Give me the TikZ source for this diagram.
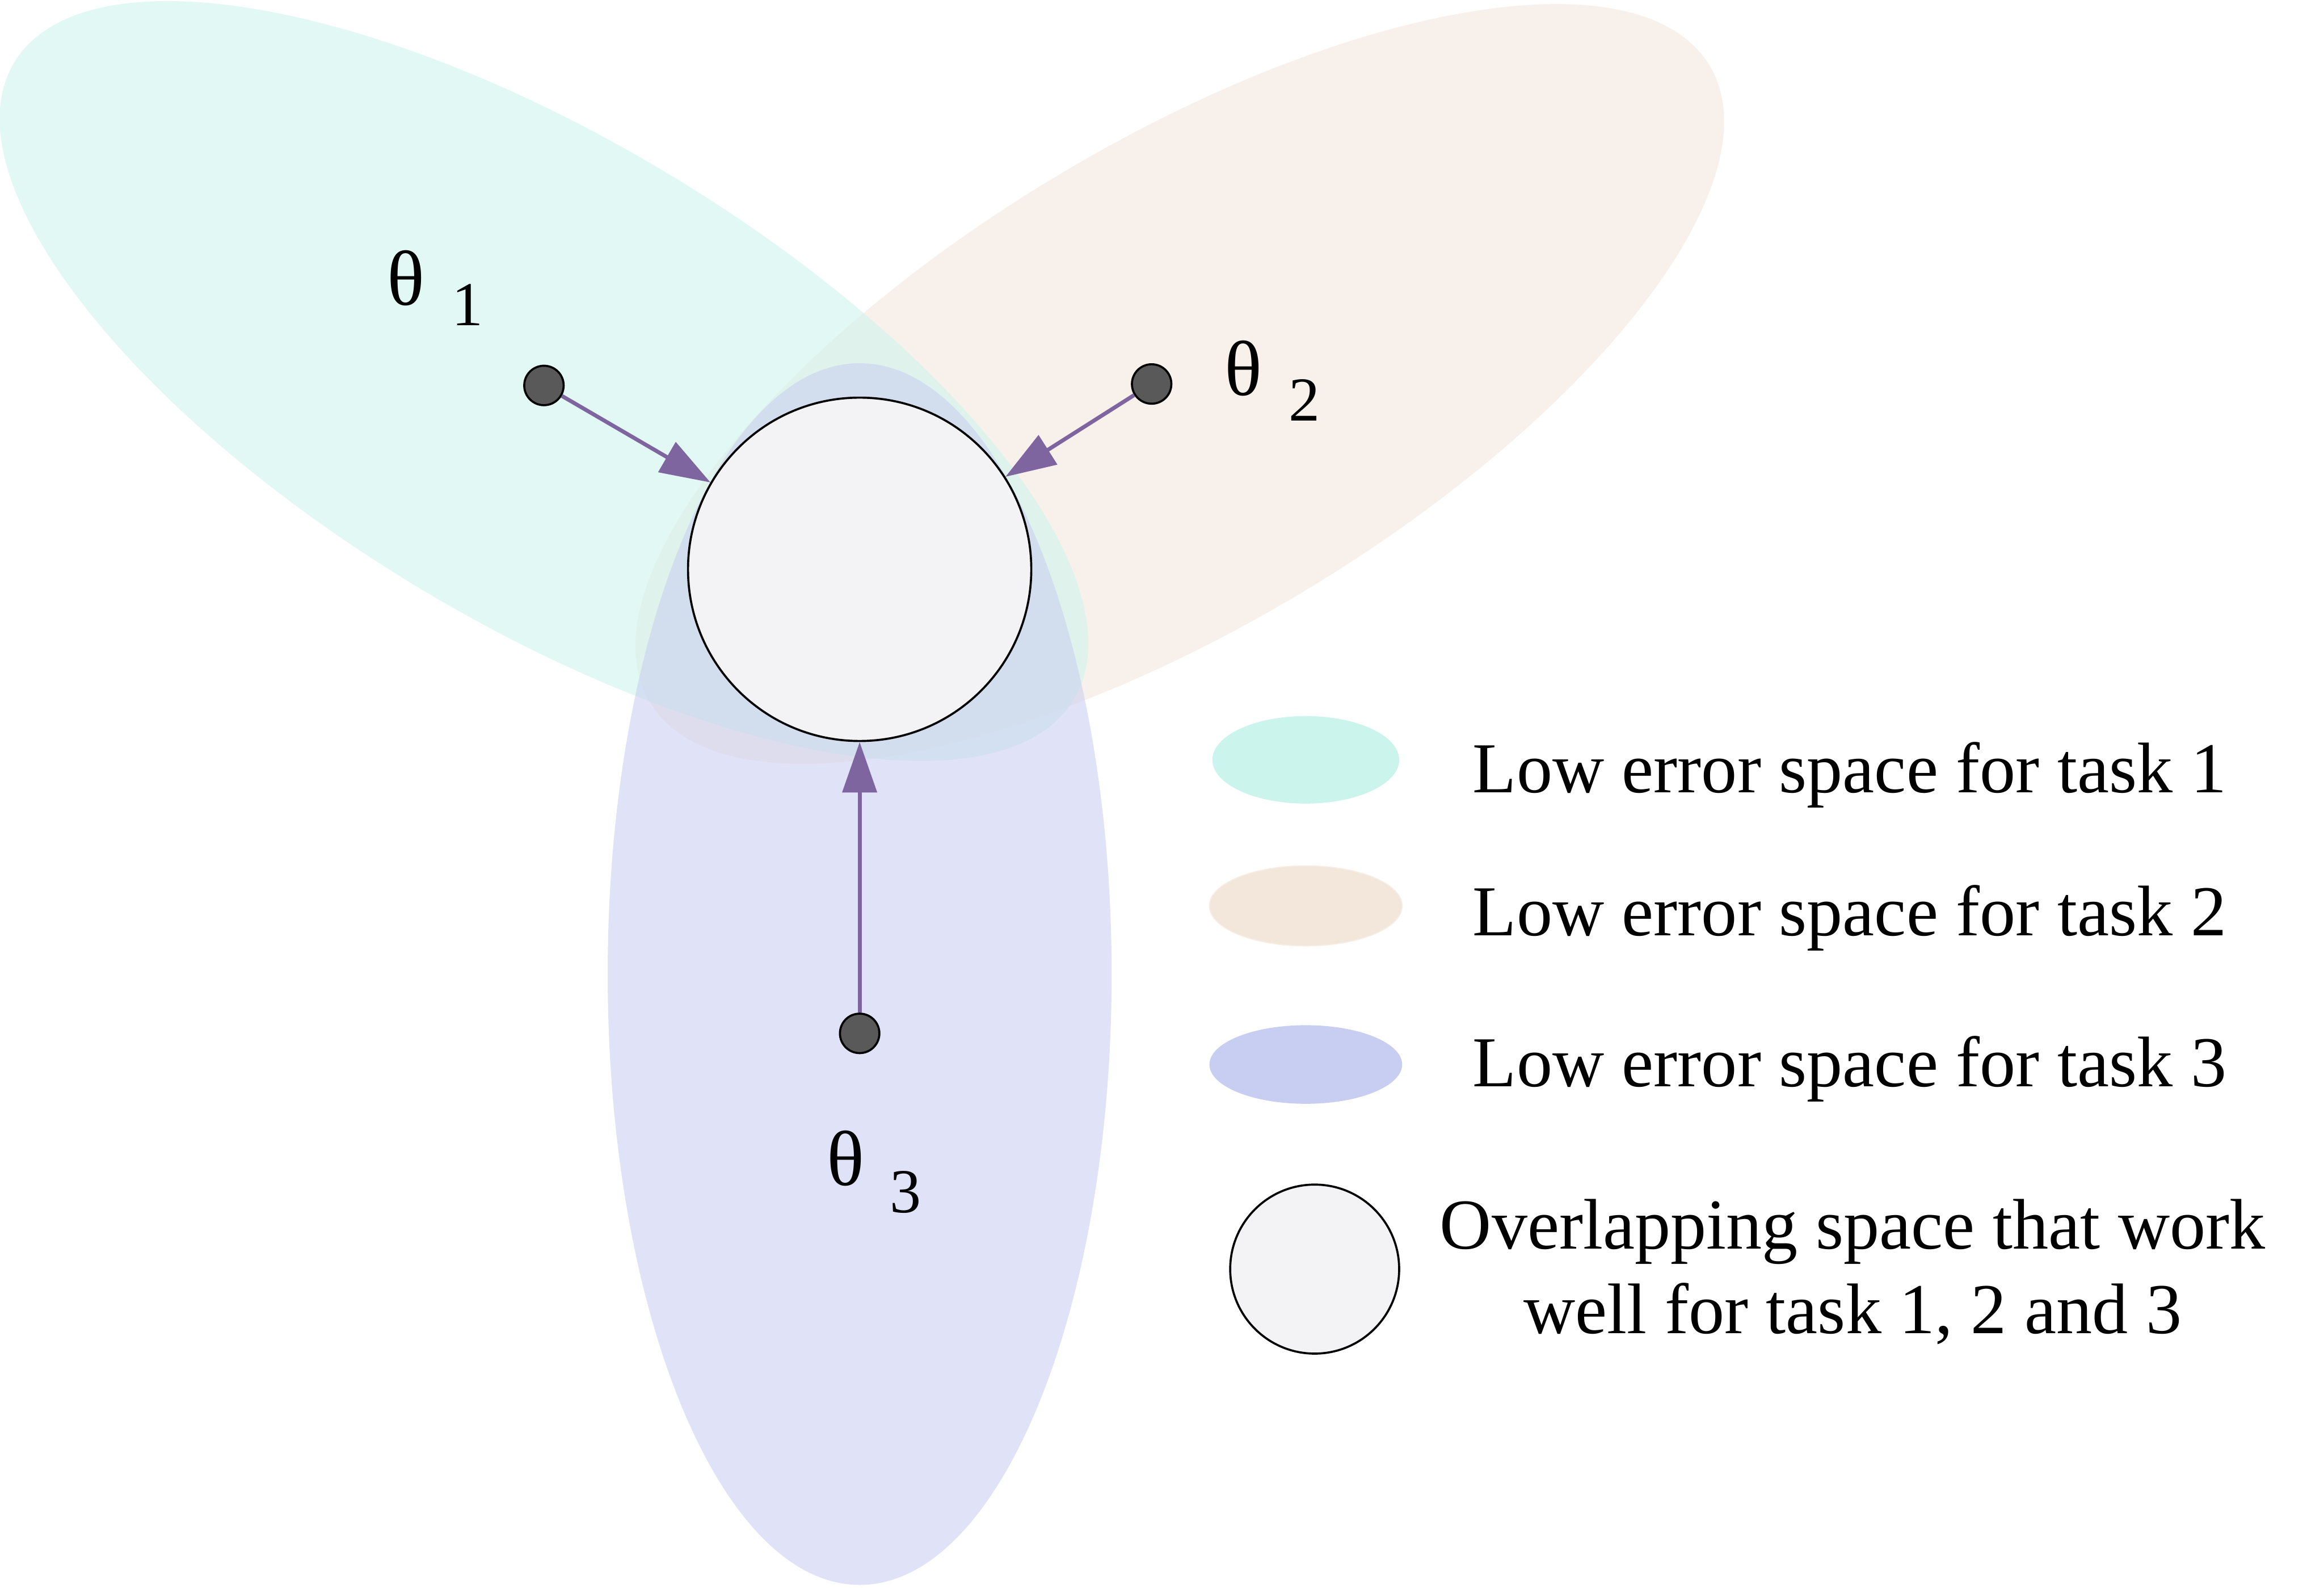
\documentclass[tikz,border=0pt]{standalone}
\usepackage{fontspec}
\setmainfont{Liberation Serif}
\usetikzlibrary{arrows.meta,positioning,shapes.geometric}
\definecolor{taskA}{RGB}{203,244,236}
\definecolor{taskB}{RGB}{243,231,220}
\definecolor{taskC}{RGB}{200,205,242}
\definecolor{ovfill}{RGB}{243,243,245}
\definecolor{dotfill}{RGB}{89,89,89}
\definecolor{arrc}{RGB}{127,101,160}

\begin{document}
\begin{tikzpicture}[>={Triangle[length=3.4mm,width=2.3mm]},
	   region/.style={fill opacity=0.55},
	   dot/.style={circle, draw=black, line width=0.4pt, fill=dotfill, minimum size=2.66mm, inner sep=0pt},
	   arr/.style={->, draw=arrc, line width=0.75pt},
	   th/.style={font=\fontsize{15}{18}\selectfont, inner sep=0pt},
	   sub/.style={font=\fontsize{12}{14}\selectfont, inner sep=0pt},
	   key/.style={ellipse, inner sep=0pt},
	   lbl/.style={font=\fontsize{13.75}{16.3}\selectfont, align=center, anchor=base, inner sep=0pt}]
	  \fill[white] (0,0) rectangle (15.68,-10.71);
	  \useasboundingbox (0,0) rectangle (15.68,-10.71);
	  \fill[taskB, region, rotate around={31:(7.96,-2.59)}] (7.96,-2.59) ellipse [x radius=4.17, y radius=1.63];
	  \fill[taskA, region, rotate around={-31:(3.67,-2.57)}] (3.67,-2.57) ellipse [x radius=4.17, y radius=1.63];
	  \fill[taskC, region] (5.80,-6.57) ellipse [x radius=1.70, y radius=4.12];
	  \node[circle, draw=black, line width=0.4pt, fill=ovfill, minimum size=23.16mm, inner sep=0pt] (ov) at (5.80,-3.84) {};
	  \node[dot] (d1) at (3.67,-2.60) {};
	  \node[dot] (d2) at (7.77,-2.59) {};
	  \node[dot] (d3) at (5.80,-6.97) {};
	  \draw[arr] (d1) -- (ov);
	  \draw[arr] (d2) -- (ov);
	  \draw[arr] (d3) -- (ov);
	  \node[th] (t1) at (2.74,-1.877) {θ};
	  \node[sub] (s1) at (3.153,-2.057) {1};
	  \node[th] (t2) at (8.39,-2.485) {θ};
	  \node[sub] (s2) at (8.80,-2.70) {2};
	  \node[th] (t3) at (5.704,-7.814) {θ};
	  \node[sub] (s3) at (6.109,-8.04) {3};
	  \node[key, fill=taskA, minimum width=12.6mm, minimum height=5.9mm] (k1) at (8.81,-5.125) {};
	  \node[key, fill=taskB, draw=taskB!80!brown!40, line width=0.2pt, minimum width=13mm, minimum height=5.4mm] (k2) at (8.81,-6.11) {};
	  \node[key, fill=taskC, minimum width=13mm, minimum height=5.3mm] (k3) at (8.81,-7.18) {};
	  \node[circle, draw=black, line width=0.4pt, fill=ovfill, minimum size=11.4mm, inner sep=0pt] (k4) at (8.87,-8.56) {};
	  \node[lbl] (l1) at (12.48,-5.345) {Low error space for task 1};
	  \node[lbl] (l2) at (12.48,-6.31) {Low error space for task 2};
	  \node[lbl] (l3) at (12.48,-7.33) {Low error space for task 3};
	  \node[lbl] (l4) at (12.50,-8.995) {Overlapping space that work\\well for task 1, 2 and 3};
	\end{tikzpicture}
\end{document}
